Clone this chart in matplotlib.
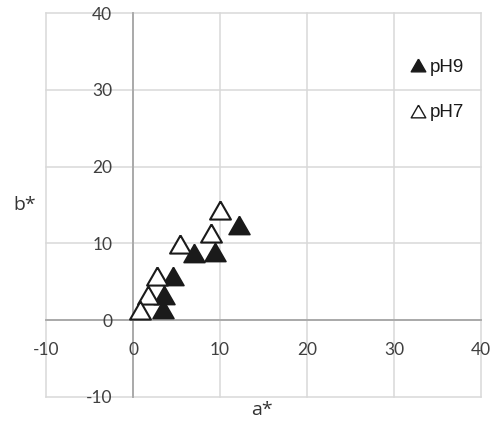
import matplotlib
matplotlib.use("Agg")
import matplotlib.pyplot as plt
from matplotlib.lines import Line2D

# Data
ph9_a = [12.2, 9.4, 7.0, 4.6, 3.5, 3.4]
ph9_b = [12.4, 8.9, 8.8, 5.7, 3.3, 1.5]
ph7_a = [10.0, 9.0, 5.4, 2.8, 1.7, 0.8]
ph7_b = [14.4, 11.3, 9.9, 5.8, 3.3, 1.3]
ticks = [-10, 0, 10, 20, 30, 40]
labels = ["pH9", "pH7"]

tri = [(0, 0.87), (-1, -0.87), (1, -0.87), (0, 0.87)]

fig = plt.figure(figsize=(4.99, 4.28), dpi=100)
ax = fig.add_axes([46/499, 1-396.7/428, (481.3-46)/499, (396.7-13.3)/428])
ax.set_xlim(-10, 40)
ax.set_ylim(-10, 40)
ax.set_xticks(ticks)
ax.set_yticks(ticks)
ax.set_xticklabels([str(t) for t in ticks])
ax.set_yticklabels([str(t) for t in ticks])

for t in ticks:
    ax.axvline(t, color="#d9d9d9", lw=1.1, zorder=0, clip_on=False)
    ax.axhline(t, color="#d9d9d9", lw=1.1, zorder=0, clip_on=False)

ax.spines["top"].set_visible(False)
ax.spines["right"].set_visible(False)
ax.spines["left"].set_position(("data", 0))
ax.spines["bottom"].set_position(("data", 0))
for s in ["left", "bottom"]:
    ax.spines[s].set_color("#a6a6a6")
    ax.spines[s].set_linewidth(1.3)
    ax.spines[s].set_zorder(1)

ax.tick_params(axis="both", length=0, labelsize=12.5, labelcolor="#404040")
ax.tick_params(axis="y", pad=15)
ax.tick_params(axis="x", pad=16)
for lab in ax.get_xticklabels() + ax.get_yticklabels():
    lab.set_fontfamily("Lato")

ax.plot(ph9_a, ph9_b, linestyle="none", marker=tri, markersize=15,
        markerfacecolor="#1a1a1a", markeredgecolor="#1a1a1a", markeredgewidth=1.2,
        label=labels[0], zorder=3, clip_on=False)
ax.plot(ph7_a, ph7_b, linestyle="none", marker=tri, markersize=15,
        markerfacecolor="white", markeredgecolor="#1a1a1a", markeredgewidth=1.5,
        label=labels[1], zorder=3, clip_on=False)

handles = [
    Line2D([], [], linestyle="none", marker=tri, markersize=10.5,
           markerfacecolor="#1a1a1a", markeredgecolor="#1a1a1a", markeredgewidth=1.0),
    Line2D([], [], linestyle="none", marker=tri, markersize=10.5,
           markerfacecolor="white", markeredgecolor="#1a1a1a", markeredgewidth=1.0),
]
leg = ax.legend(handles, labels, loc="upper right", bbox_to_anchor=(1.0, 0.925),
                frameon=False, handlelength=0.6, handletextpad=0.35,
                labelspacing=1.5, prop={"family": "Liberation Sans", "size": 13.5})
for t in leg.get_texts():
    t.set_color("#1a1a1a")

fig.text(262/499, 1-410/428, "a*", ha="center", va="center", fontsize=14,
         family="Open Sans", color="#333333")
fig.text(25/499, 1-205/428, "b*", ha="center", va="center", fontsize=14,
         family="Open Sans", color="#333333")

fig.savefig("out.png", dpi=100)
